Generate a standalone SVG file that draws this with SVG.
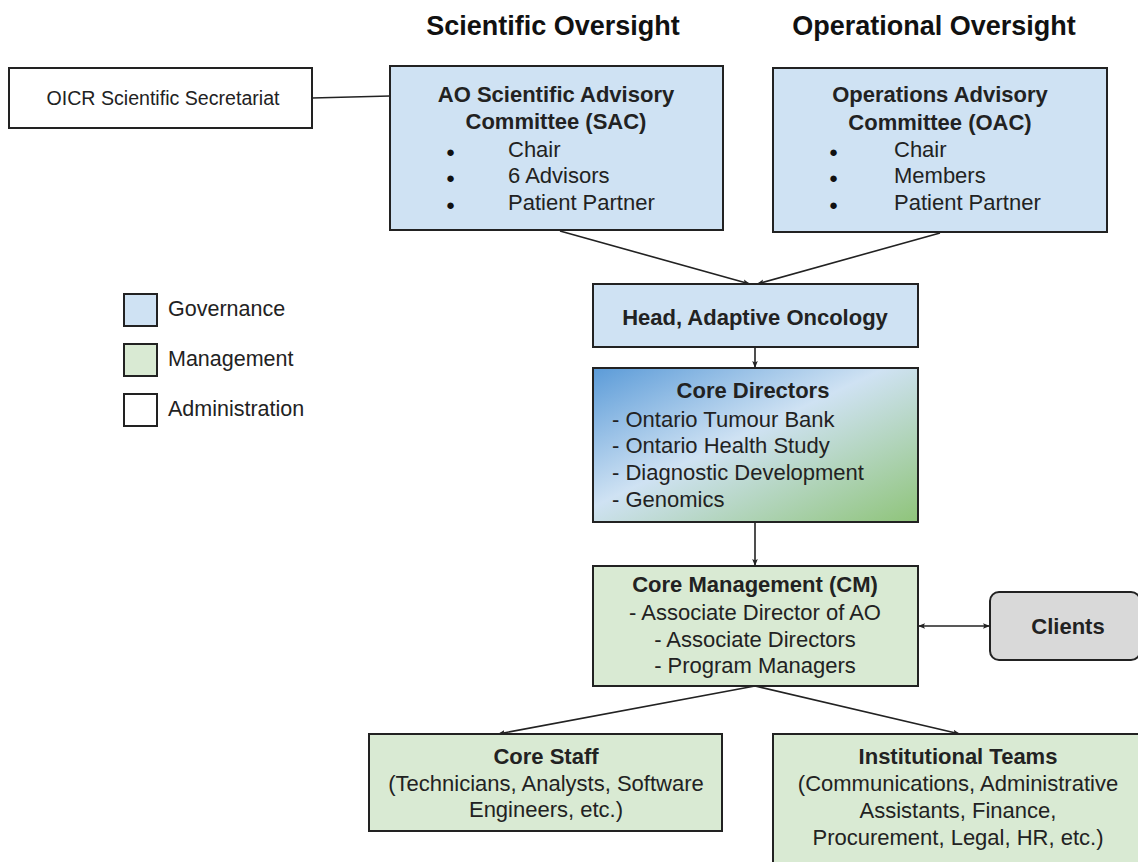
<svg xmlns="http://www.w3.org/2000/svg" width="1138" height="862" viewBox="0 0 1138 862">
<style>
text{font-family:"Liberation Sans",Arial,sans-serif;fill:#222;}
.t{font-size:22px;}
.b{font-size:22px;font-weight:bold;}
.lg{font-size:21.5px;}
.o{font-size:19.6px;}
.h{font-size:27px;font-weight:bold;fill:#111;}
.c{text-anchor:middle;}
.box{stroke:#222;stroke-width:2;}
.gov{fill:#cfe2f3;}
.mgt{fill:#d9ead3;}
.adm{fill:#fff;}
.cli{fill:#d9d9d9;}
.ln{stroke:#222;stroke-width:1.6;fill:none;}
.bul{font-size:15px;fill:#111;}
</style>
<defs>
<marker id="ah" viewBox="0 0 10 10" refX="10" refY="5" markerWidth="7" markerHeight="7" orient="auto-start-reverse" markerUnits="userSpaceOnUse">
<path d="M0,1 L10,5 L0,9 L2,5 Z" fill="#222"/>
</marker>
<linearGradient id="gr" x1="0" y1="0" x2="1" y2="1">
<stop offset="0" stop-color="#5b9bd8"/>
<stop offset="0.45" stop-color="#cfe2f3"/>
<stop offset="1" stop-color="#8fc47a"/>
</linearGradient>
</defs>

<text class="h c" x="553" y="35">Scientific Oversight</text>
<text class="h c" x="934" y="35">Operational Oversight</text>

<g id="connectors">
<line class="ln" x1="312" y1="98" x2="390" y2="96"/>
<line class="ln" x1="560" y1="231" x2="750" y2="284" marker-end="url(#ah)"/>
<line class="ln" x1="940" y1="233" x2="757" y2="284" marker-end="url(#ah)"/>
<line class="ln" x1="755" y1="347" x2="755" y2="368" marker-end="url(#ah)"/>
<line class="ln" x1="755" y1="522" x2="755" y2="566" marker-end="url(#ah)"/>
<line class="ln" x1="918" y1="626" x2="990" y2="626" marker-start="url(#ah)" marker-end="url(#ah)"/>
<line class="ln" x1="755" y1="686" x2="498" y2="734" marker-end="url(#ah)"/>
<line class="ln" x1="755" y1="686" x2="960" y2="734" marker-end="url(#ah)"/>
</g>

<g id="oicr">
<rect class="box adm" x="9" y="68" width="303" height="60"/>
<text class="o c" x="163" y="105">OICR Scientific Secretariat</text>
</g>

<g id="sac">
<rect class="box gov" x="390" y="66" width="333" height="164"/>
<text class="b c" x="556" y="102">AO Scientific Advisory</text>
<text class="b c" x="556" y="129">Committee (SAC)</text>
<text class="bul" x="446" y="157">●</text>
<text class="t" x="508" y="157">Chair</text>
<text class="bul" x="446" y="183">●</text>
<text class="t" x="508" y="183">6 Advisors</text>
<text class="bul" x="446" y="210">●</text>
<text class="t" x="508" y="210">Patient Partner</text>
</g>

<g id="oac">
<rect class="box gov" x="773" y="68" width="334" height="164"/>
<text class="b c" x="940" y="102">Operations Advisory</text>
<text class="b c" x="940" y="130">Committee (OAC)</text>
<text class="bul" x="829" y="157">●</text>
<text class="t" x="894" y="157">Chair</text>
<text class="bul" x="829" y="183">●</text>
<text class="t" x="894" y="183">Members</text>
<text class="bul" x="829" y="210">●</text>
<text class="t" x="894" y="210">Patient Partner</text>
</g>

<g id="legend">
<rect class="box gov" x="124" y="294" width="33" height="32"/>
<text class="lg" x="168" y="316">Governance</text>
<rect class="box mgt" x="124" y="344" width="33" height="32"/>
<text class="lg" x="168" y="366">Management</text>
<rect class="box adm" x="124" y="394" width="33" height="32"/>
<text class="lg" x="168" y="416">Administration</text>
</g>

<g id="head">
<rect class="box gov" x="593" y="284" width="325" height="63"/>
<text class="b c" x="755" y="325">Head, Adaptive Oncology</text>
</g>

<g id="directors">
<rect class="box" fill="url(#gr)" x="593" y="368" width="325" height="154"/>
<text class="b c" x="753" y="398">Core Directors</text>
<text class="t" x="612" y="427">- Ontario Tumour Bank</text>
<text class="t" x="612" y="453">- Ontario Health Study</text>
<text class="t" x="612" y="480">- Diagnostic Development</text>
<text class="t" x="612" y="507">- Genomics</text>
</g>

<g id="cm">
<rect class="box mgt" x="593" y="566" width="325" height="120"/>
<text class="b c" x="755" y="592">Core Management (CM)</text>
<text class="t c" x="755" y="620">- Associate Director of AO</text>
<text class="t c" x="755" y="647">- Associate Directors</text>
<text class="t c" x="755" y="673">- Program Managers</text>
</g>

<g id="clients">
<rect class="box cli" x="990" y="592" width="150" height="68" rx="9"/>
<text class="b c" x="1068" y="634">Clients</text>
</g>

<g id="staff">
<rect class="box mgt" x="369" y="734" width="353" height="97"/>
<text class="b c" x="546" y="764">Core Staff</text>
<text class="t c" x="546" y="791">(Technicians, Analysts, Software</text>
<text class="t c" x="546" y="817">Engineers, etc.)</text>
</g>

<g id="teams">
<rect class="box mgt" x="773" y="734" width="380" height="140"/>
<text class="b c" x="958" y="764">Institutional Teams</text>
<text class="t c" x="958" y="791">(Communications, Administrative</text>
<text class="t c" x="958" y="818">Assistants, Finance,</text>
<text class="t c" x="958" y="845">Procurement, Legal, HR, etc.)</text>
</g>
</svg>
